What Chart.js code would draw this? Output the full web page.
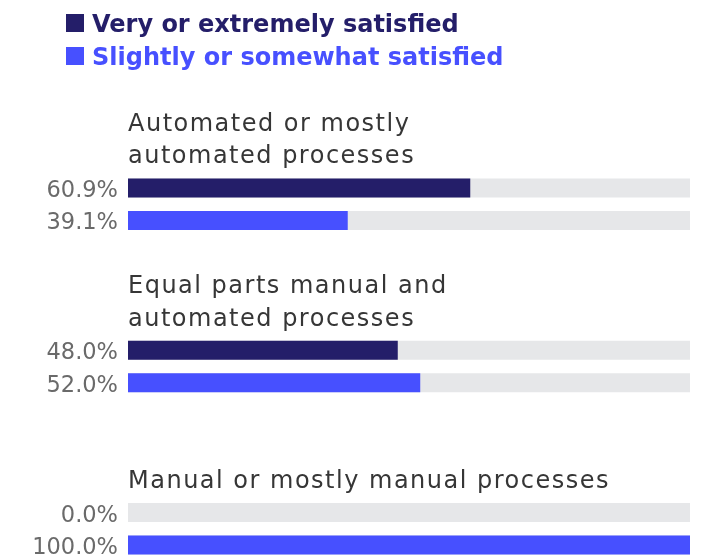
<!DOCTYPE html>
<html>
<head>
<meta charset="utf-8">
<script src="https://cdn.jsdelivr.net/npm/chart.js@4.4.1/dist/chart.umd.min.js"></script>
<style>
  html, body { margin: 0; padding: 0; background: #ffffff; overflow: hidden; }
  #wrap { width: 710px; height: 556px; position: relative; }
</style>
</head>
<body>
<div id="wrap"><canvas id="chart" width="710" height="556"></canvas></div>
<script>
// Satisfaction by level of process automation
const categories = [
  ["Automated or mostly", "automated processes"],
  ["Equal parts manual and", "automated processes"],
  ["Manual or mostly manual processes"]
];
const seriesNames = ["Very or extremely satisfied", "Slightly or somewhat satisfied"];
const verySatisfied = [60.9, 48.0, 0.0];
const slightlySatisfied = [39.1, 52.0, 100.0];
const fullScale = 100;

const colors = { dark: "#241e69", blue: "#4750ff", track: "#e6e7e9" };

// each category block takes 5 rows: title lines above, then the two bars
const ROWS_PER_BLOCK = 5;
const darkRow = i => ROWS_PER_BLOCK * i + 2;
const blueRow = i => ROWS_PER_BLOCK * i + 3;

const darkData = verySatisfied.map((v, i) => ({ x: v, y: darkRow(i) }));
const blueData = slightlySatisfied.map((v, i) => ({ x: v, y: blueRow(i) }));
const trackData = categories.flatMap((c, i) => [
  { x: fullScale, y: darkRow(i) }, { x: fullScale, y: blueRow(i) }
]);

const labelsPlugin = {
  id: "blockLabels",
  afterDatasetsDraw(chart) {
    const ctx = chart.ctx;
    const yScale = chart.scales.y;
    const xScale = chart.scales.x;
    const left = xScale.getPixelForValue(0);
    ctx.save();
    ctx.textBaseline = "alphabetic";

    // category titles
    ctx.font = "24px 'DejaVu Sans'";
    ctx.letterSpacing = "1.5px";
    ctx.fillStyle = "#363636";
    ctx.textAlign = "left";
    categories.forEach((lines, i) => {
      lines.forEach((line, j) => {
        const row = darkRow(i) - lines.length + j;
        ctx.fillText(line, left, yScale.getPixelForValue(row) + 8);
      });
    });

    // value labels beside each bar
    ctx.letterSpacing = "0px";
    ctx.font = "22.5px 'DejaVu Sans'";
    ctx.fillStyle = "#6a6a6a";
    ctx.textAlign = "right";
    [0, 1].forEach(d => {
      const meta = chart.getDatasetMeta(d);
      meta.data.forEach((bar, k) => {
        const v = chart.data.datasets[d].data[k].x;
        ctx.fillText(v.toFixed(1) + "%", left - 10, bar.y + 9);
      });
    });

    // legend
    const legendColors = [colors.dark, colors.blue];
    ctx.font = "bold 24px 'DejaVu Sans'";
    ctx.textAlign = "left";
    seriesNames.forEach((name, i) => {
      const base = 32 + i * 33;
      ctx.fillStyle = legendColors[i];
      ctx.fillRect(66, base - 18, 18, 18);
      ctx.fillText(name, 92, base);
    });
    ctx.restore();
  }
};

new Chart(document.getElementById("chart"), {
  type: "bar",
  data: {
    datasets: [
      { label: seriesNames[0], data: darkData, backgroundColor: colors.dark, grouped: false, barThickness: 19, inflateAmount: 0 },
      { label: seriesNames[1], data: blueData, backgroundColor: colors.blue, grouped: false, barThickness: 19, inflateAmount: 0 },
      { label: "track", data: trackData, backgroundColor: colors.track, grouped: false, barThickness: 19, inflateAmount: 0 }
    ]
  },
  options: {
    indexAxis: "y",
    responsive: false,
    animation: false,
    layout: { padding: { left: 128, right: 20, top: 0, bottom: 0 } },
    scales: {
      x: { type: "linear", min: 0, max: fullScale, display: false, offset: false },
      y: { type: "linear", reverse: true, min: -3.79, max: 13.34, display: false, offset: false }
    },
    plugins: { legend: { display: false }, tooltip: { enabled: false } }
  },
  plugins: [labelsPlugin]
});
</script>
</body>
</html>
